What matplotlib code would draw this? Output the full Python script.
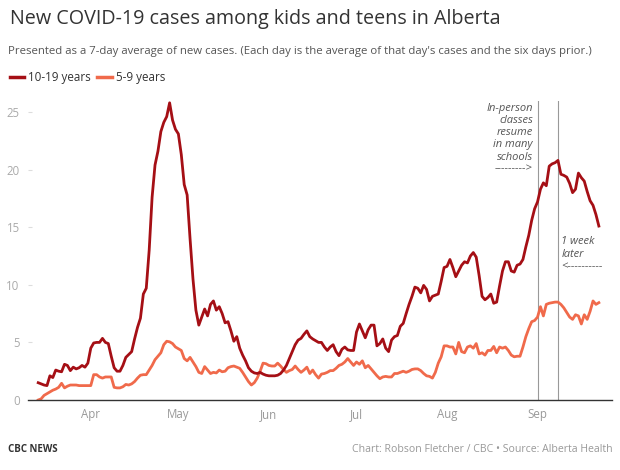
import numpy as np
import pandas as pd
import matplotlib
matplotlib.use("Agg")
import matplotlib.pyplot as plt
import matplotlib.dates as mdates
from matplotlib.lines import Line2D

# 7-day average of new cases, one value per day starting Mar 14
start_date = "2020-03-14"
teens_10_19 = [
    1.5, 1.4, 1.3, 1.25, 2.1, 1.95, 2.6, 2.5, 2.45, 3.1,
    3.0, 2.55, 2.85, 2.7, 2.8, 3.0, 2.85, 3.2, 4.5, 4.95,
    5.0, 5.0, 5.35, 5.0, 4.9, 3.8, 2.8, 2.5, 2.5, 3.0,
    3.7, 3.95, 4.2, 5.3, 6.3, 7.1, 9.2, 9.7, 13.0, 17.6,
    20.4, 21.6, 23.3, 24.1, 24.6, 25.8, 24.3, 23.5, 23.1, 21.3,
    18.7, 17.8, 14.0, 10.5, 7.8, 6.5, 7.2, 7.9, 7.3, 8.3,
    8.6, 7.8, 8.1, 7.5, 6.7, 6.8, 6.0, 5.1, 5.5, 4.5,
    3.9, 3.4, 2.8, 2.5, 2.35, 2.3, 2.4, 2.25, 2.15, 2.1,
    2.1, 2.1, 2.15, 2.3, 2.6, 3.0, 3.6, 4.2, 4.8, 5.2,
    5.35, 5.7, 6.0, 5.5, 5.3, 5.15, 5.0, 5.0, 4.6, 4.3,
    4.6, 4.8, 4.2, 3.85, 4.4, 4.6, 4.35, 4.3, 4.3, 5.9,
    6.6, 6.0, 5.4, 6.1, 6.5, 6.5, 4.7, 4.9, 5.3, 4.5,
    4.2, 5.2, 5.5, 5.6, 6.4, 6.65, 7.5, 8.3, 9.0, 9.8,
    9.7, 9.3, 9.95, 9.6, 8.6, 9.0, 9.1, 9.2, 10.3, 11.5,
    11.6, 12.2, 11.5, 10.7, 11.2, 11.7, 12.0, 11.9, 12.5, 12.8,
    12.4, 10.8, 9.0, 8.7, 8.9, 9.2, 8.4, 8.5, 9.9, 11.2,
    12.0, 12.0, 11.2, 11.1, 11.7, 11.8, 12.2, 13.3, 14.3, 15.6,
    16.6, 17.2, 18.3, 18.85, 18.6, 20.3, 20.5, 20.6, 20.8, 19.6,
    19.5, 19.35, 18.8, 18.0, 18.3, 19.7, 19.3, 19.0, 18.1, 17.3,
    16.9, 16.1, 15.1,
]
kids_5_9 = [
    0.0, 0.1, 0.4, 0.55, 0.7, 0.85, 0.95, 1.1, 1.45, 1.05,
    1.2, 1.3, 1.3, 1.3, 1.25, 1.25, 1.25, 1.25, 1.25, 2.2,
    2.2, 2.0, 1.9, 2.0, 2.0, 2.0, 1.1, 1.05, 1.05, 1.15,
    1.35, 1.3, 1.4, 1.6, 1.9, 2.15, 2.2, 2.2, 2.6, 3.0,
    3.5, 3.8, 4.1, 4.8, 5.1, 5.05, 4.9, 4.6, 4.45, 4.3,
    3.6, 3.4, 3.7, 3.3, 2.9, 2.4, 2.3, 2.9, 2.6, 2.3,
    2.4, 2.35, 2.6, 2.45, 2.5, 2.8, 2.9, 2.95, 2.85, 2.75,
    2.4, 2.0, 1.6, 1.3, 1.5, 1.9, 2.5, 3.2, 3.15, 3.0,
    2.95, 2.95, 3.2, 2.95, 2.65, 2.4, 2.55, 2.65, 2.95, 2.65,
    2.4, 2.6, 2.85, 2.3, 2.6, 2.2, 1.9, 2.25, 2.3, 2.4,
    2.55, 2.55, 2.75, 3.0, 3.1, 3.3, 3.6, 3.3, 3.0, 3.3,
    3.1, 3.4, 2.8, 3.0, 2.7, 2.4, 2.1, 1.85, 2.0, 2.05,
    2.0, 2.0, 2.3, 2.3, 2.4, 2.5, 2.4, 2.5, 2.65, 2.7,
    2.7, 2.55, 2.3, 2.1, 2.05, 1.9, 2.4, 3.2, 3.75, 4.7,
    4.7, 4.6, 4.6, 4.0, 5.0, 4.2, 4.1, 4.6, 4.7, 4.5,
    4.9, 4.0, 4.1, 3.9, 4.3, 4.3, 4.65, 4.1, 4.6, 4.5,
    4.6, 4.3, 3.9, 3.75, 3.8, 3.8, 4.6, 5.5, 6.2, 6.8,
    6.9, 7.2, 8.1, 7.3, 8.3, 8.4, 8.45, 8.5, 8.5, 8.3,
    8.0, 7.6, 7.2, 7.0, 7.4, 7.3, 6.6, 7.4, 7.0, 7.7,
    8.6, 8.3, 8.45,
]
y_ticks = [0, 5, 10, 15, 20, 25]
classes_resume = "2020-09-01"
one_week_later = "2020-09-08"

dates = pd.date_range(start_date, periods=len(teens_10_19), freq="D")

RED = "#a50f15"
ORANGE = "#f06a4b"

plt.rcParams["font.family"] = ["Open Sans", "DejaVu Sans"]

fig = plt.figure(figsize=(6.2, 4.7), dpi=100)
ax = fig.add_axes([28 / 620, 70 / 470, 584 / 620, 299.5 / 470])

ax.plot(dates, kids_5_9, color=ORANGE, linewidth=2.0, solid_joinstyle="round")
ax.plot(dates, teens_10_19, color=RED, linewidth=2.0, solid_joinstyle="round")

# school annotation lines
ax.axvline(pd.Timestamp(classes_resume), color="#999999", linewidth=0.8, zorder=0)
ax.axvline(pd.Timestamp(one_week_later), color="#999999", linewidth=0.8, zorder=0)
ax.text(pd.Timestamp(classes_resume) - pd.Timedelta(days=1.6), 25.8,
        "In-person\nclasses\nresume\nin many\nschools\n--------->",
        ha="right", va="top", fontsize=8, style="italic", color="#555555", linespacing=1.15)
ax.text(pd.Timestamp(one_week_later) + pd.Timedelta(days=1.2), 14.2,
        "1 week\nlater\n<----------",
        ha="left", va="top", fontsize=8, style="italic", color="#555555", linespacing=1.15)

ax.set_ylim(0, 26)
ax.set_xlim(pd.Timestamp(start_date) - pd.Timedelta(days=3.5), dates[-1] + pd.Timedelta(days=4.5))
ax.set_yticks(y_ticks)
ax.xaxis.set_major_locator(mdates.MonthLocator())
ax.xaxis.set_major_formatter(mdates.DateFormatter("%b"))

for side in ["top", "right", "left"]:
    ax.spines[side].set_visible(False)
ax.spines["bottom"].set_color("#333333")
ax.spines["bottom"].set_linewidth(1.0)
ax.tick_params(axis="x", length=0, pad=6, labelsize=8.3, labelcolor="#999999")
ax.tick_params(axis="y", direction="in", length=3, color="#dddddd", pad=6, labelsize=8.3, labelcolor="#aaaaaa")

# header
fig.text(10 / 620, 1 - 19 / 470, "New COVID-19 cases among kids and teens in Alberta",
         fontsize=14.2, color="#333333", va="center", ha="left")
fig.text(8 / 620, 1 - 52 / 470,
         "Presented as a 7-day average of new cases. (Each day is the average of that day's cases and the six days prior.)",
         fontsize=8.2, color="#555555", va="center", ha="left")

# legend
leg_y = 1 - 77 / 470
fig.add_artist(Line2D([10 / 620, 24 / 620], [leg_y, leg_y], color=RED, linewidth=2.5))
fig.text(28 / 620, leg_y, "10-19 years", fontsize=8.4, color="#333333", va="center", ha="left")
fig.add_artist(Line2D([97 / 620, 112 / 620], [leg_y, leg_y], color=ORANGE, linewidth=2.5))
fig.text(116 / 620, leg_y, "5-9 years", fontsize=8.4, color="#333333", va="center", ha="left")

# footer
fig.text(8 / 620, 1 - 450 / 470, "CBC NEWS", fontsize=7, fontweight="bold", color="#333333", va="center", ha="left")
fig.text(613 / 620, 1 - 450 / 470, "Chart: Robson Fletcher / CBC \u2022 Source: Alberta Health",
         fontsize=7.6, color="#999999", va="center", ha="right")

fig.savefig("out.png", dpi=100)
